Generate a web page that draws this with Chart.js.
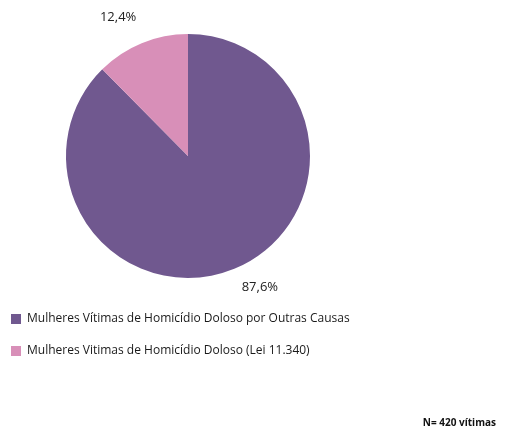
<!DOCTYPE html>
<html>
<head>
<meta charset="utf-8">
<script src="https://cdn.jsdelivr.net/npm/chart.js@4/dist/chart.umd.min.js"></script>
<style>
  html, body { margin: 0; padding: 0; background: #fff; }
  #wrap { position: relative; width: 511px; height: 436px; }
</style>
</head>
<body>
<div id="wrap"><canvas id="chart-area" width="511" height="436"></canvas></div>
<script>
// dados do gráfico
var categorias = [
    'Mulheres Vítimas de Homicídio Doloso por Outras Causas',
    'Mulheres Vitimas de Homicídio Doloso (Lei 11.340)'
];
var percentuais = [87.6, 12.4];
var rotulos = ['87,6%', '12,4%'];
var cores = ['#70588f', '#d88fb8'];
var nota = 'N= 420 vítimas';

// rótulos de percentual fora das fatias + legenda + nota
var extras = {
    id: 'extras',
    afterDraw: function(chart) {
        var ctx = chart.ctx;
        var meta = chart.getDatasetMeta(0);
        ctx.save();
        ctx.fillStyle = '#222';
        ctx.font = '13px "Open Sans", sans-serif';
        ctx.textBaseline = 'middle';
        meta.data.forEach(function(arc, i) {
            var mid = (arc.startAngle + arc.endAngle) / 2;
            var r = arc.outerRadius + 22;
            var x = arc.x + Math.cos(mid) * r;
            var y = arc.y + Math.sin(mid) * r;
            ctx.textAlign = Math.cos(mid) >= 0 ? 'left' : 'right';
            var dx = Math.cos(mid) >= 0 ? -1 : 3;
            ctx.fillText(rotulos[i], x + dx, y - (Math.sin(mid) < 0 ? 5 : 2));
        });

        // legenda
        ctx.font = '12px "Open Sans", sans-serif';
        ctx.textAlign = 'left';
        categorias.forEach(function(c, i) {
            var y = 319 + i * 32;
            ctx.fillStyle = cores[i];
            ctx.fillRect(11, y - 5, 10, 10);
            ctx.fillStyle = '#1a1a1a';
            ctx.fillText(c, 27, y);
        });

        ctx.font = 'bold 10px "Open Sans", sans-serif';
        ctx.textAlign = 'right';
        ctx.fillStyle = '#111';
        ctx.fillText(nota, 496, 423);
        ctx.restore();
    }
};

var config = {
    type: 'pie',
    data: {
        labels: categorias,
        datasets: [{
            data: percentuais,
            backgroundColor: cores,
            borderWidth: 0
        }]
    },
    options: {
        responsive: false,
        animation: false,
        layout: {
            padding: { left: 66, top: 34, right: 201, bottom: 158 }
        },
        plugins: {
            legend: { display: false },
            tooltip: { enabled: false }
        }
    },
    plugins: [extras]
};

var ctx = document.getElementById('chart-area').getContext('2d');
window.myPie = new Chart(ctx, config);
</script>
</body>
</html>
